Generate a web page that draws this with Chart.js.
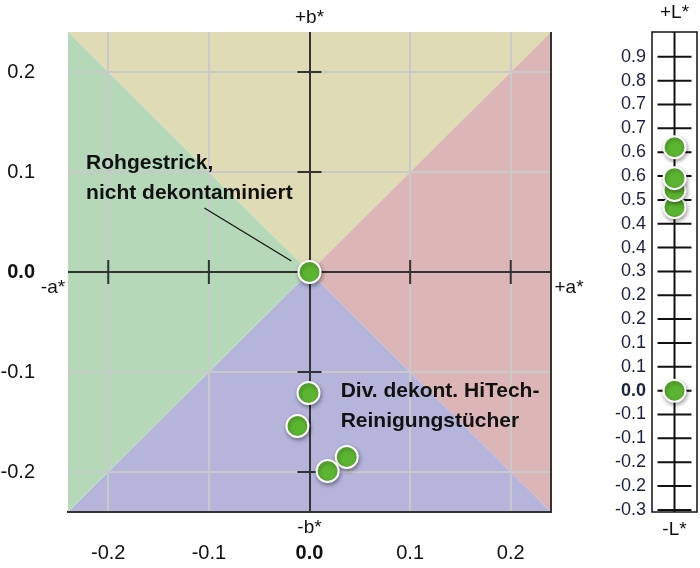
<!DOCTYPE html>
<html>
<head>
<meta charset="utf-8">
<script src="https://cdn.jsdelivr.net/npm/chart.js@4.4.1/dist/chart.umd.min.js"></script>
<style>
  html, body { margin: 0; padding: 0; background: #fff; }
  #wrap { position: relative; width: 700px; height: 568px; }
  #abChart { position: absolute; left: 0; top: 0; }
  #lChart { position: absolute; left: 600px; top: 0; }
</style>
</head>
<body>
<div id="wrap">
  <canvas id="abChart" width="600" height="568"></canvas>
  <canvas id="lChart" width="100" height="568"></canvas>
</div>
<script>
// Farbabstand-Daten (a*, b*, L*)
const sampleNames = ['Rohgestrick', 'Tuch 1', 'Tuch 2', 'Tuch 3', 'Tuch 4'];
const aValues = [0, -0.001, -0.012, 0.037, 0.018];
const bValues = [0, -0.121, -0.154, -0.185, -0.199];
const lValues = [0, 0.481, 0.526, 0.557, 0.638];

const abTicks = [-0.2, -0.1, 0, 0.1, 0.2];
const abTickLabels = ['-0.2', '-0.1', '0.0', '0.1', '0.2'];
const lTicks = [-0.3125, -0.25, -0.1875, -0.125, -0.0625, 0, 0.0625, 0.125, 0.1875, 0.25,
  0.3125, 0.375, 0.4375, 0.5, 0.5625, 0.625, 0.6875, 0.75, 0.8125, 0.875];
const lTickLabels = ['-0.3', '-0.2', '-0.2', '-0.1', '-0.1', '0.0', '0.1', '0.1', '0.2', '0.2',
  '0.3', '0.4', '0.4', '0.5', '0.6', '0.6', '0.7', '0.7', '0.8', '0.9'];

const FONT = "'Liberation Sans', Arial, sans-serif";
const DARK = '#333';
const POINT_GREEN = '#5cb531';

// shadow under the points
const shadowOn = (ctx) => {
  ctx.save();
  ctx.shadowColor = 'rgba(0, 0, 0, 0.35)';
  ctx.shadowBlur = 4;
  ctx.shadowOffsetX = 1;
  ctx.shadowOffsetY = 2;
};

// keep the plot area where it is, no label padding
const noPad = (scale) => {
  scale.paddingTop = 0;
  scale.paddingBottom = 0;
  scale.paddingLeft = 0;
  scale.paddingRight = 0;
};

// a*/b* diagram decorations
const abPlugin = {
  id: 'abDeco',
  beforeDraw(chart) {
    const { ctx, chartArea: ca, scales: { x, y } } = chart;
    const cx = x.getPixelForValue(0), cy = y.getPixelForValue(0);
    const tri = (pts, color) => {
      ctx.beginPath();
      ctx.moveTo(pts[0][0], pts[0][1]);
      pts.slice(1).forEach(p => ctx.lineTo(p[0], p[1]));
      ctx.closePath();
      ctx.fillStyle = color;
      ctx.fill();
    };
    ctx.save();
    tri([[ca.left, ca.top], [ca.right, ca.top], [cx, cy]], '#dedbb5');
    tri([[ca.right, ca.top], [ca.right, ca.bottom], [cx, cy]], '#dcb5b7');
    tri([[ca.right, ca.bottom], [ca.left, ca.bottom], [cx, cy]], '#b5b5dc');
    tri([[ca.left, ca.bottom], [ca.left, ca.top], [cx, cy]], '#b5d9b8');
    ctx.restore();
  },
  beforeDatasetsDraw(chart) {
    const { ctx, chartArea: ca, scales: { x, y } } = chart;
    const cx = x.getPixelForValue(0), cy = y.getPixelForValue(0);
    ctx.save();
    ctx.strokeStyle = DARK;
    ctx.lineWidth = 2;
    ctx.beginPath();
    abTicks.filter(v => v !== 0).forEach(v => {
      const px = x.getPixelForValue(v), py = y.getPixelForValue(v);
      ctx.moveTo(px, cy - 12); ctx.lineTo(px, cy + 12);
      ctx.moveTo(cx - 12, py); ctx.lineTo(cx + 12, py);
    });
    // right border
    ctx.moveTo(ca.right, ca.top); ctx.lineTo(ca.right, ca.bottom + 1);
    ctx.stroke();

    // axis names
    ctx.fillStyle = '#111';
    ctx.font = '19px ' + FONT;
    ctx.textAlign = 'center';
    ctx.textBaseline = 'middle';
    ctx.fillText('+b*', cx, ca.top - 14);
    ctx.fillText('-b*', cx, ca.bottom + 16);
    ctx.fillText('-a*', ca.left - 15, cy + 16);
    ctx.fillText('+a*', ca.right + 18, cy + 16);

    // annotations
    ctx.fillStyle = '#111';
    ctx.font = 'bold 21px ' + FONT;
    ctx.textAlign = 'left';
    ctx.fillText('Rohgestrick,', x.getPixelForValue(-0.222), y.getPixelForValue(0.109));
    ctx.fillText('nicht dekontaminiert', x.getPixelForValue(-0.222), y.getPixelForValue(0.079));
    ctx.fillText('Div. dekont. HiTech-', x.getPixelForValue(0.031), y.getPixelForValue(-0.119));
    ctx.fillText('Reinigungstücher', x.getPixelForValue(0.031), y.getPixelForValue(-0.149));

    // leader line
    ctx.strokeStyle = '#111';
    ctx.lineWidth = 1.2;
    ctx.beginPath();
    ctx.moveTo(x.getPixelForValue(-0.1045), y.getPixelForValue(0.064));
    ctx.lineTo(x.getPixelForValue(-0.018), y.getPixelForValue(0.011));
    ctx.stroke();
    ctx.restore();

    shadowOn(ctx);
  },
  afterDatasetsDraw(chart) {
    chart.ctx.restore();
  }
};

// L* bar decorations
const lPlugin = {
  id: 'lDeco',
  beforeDatasetsDraw(chart) {
    const { ctx, chartArea: ca, scales: { x, y } } = chart;
    const cx = x.getPixelForValue(0);
    ctx.save();
    ctx.strokeStyle = '#111';
    ctx.lineWidth = 1.5;
    ctx.strokeRect(ca.left, ca.top, ca.right - ca.left, ca.bottom - ca.top);
    ctx.lineWidth = 2;
    ctx.beginPath();
    ctx.moveTo(cx, ca.top); ctx.lineTo(cx, ca.bottom);
    lTicks.forEach(v => {
      const py = y.getPixelForValue(v);
      ctx.moveTo(cx - 17, py); ctx.lineTo(cx + 17, py);
    });
    ctx.stroke();
    ctx.fillStyle = '#111';
    ctx.font = '19px ' + FONT;
    ctx.textAlign = 'center';
    ctx.textBaseline = 'middle';
    ctx.fillText('+L*', cx, ca.top - 19);
    ctx.fillText('-L*', cx, ca.bottom + 18);
    ctx.restore();
    shadowOn(ctx);
  },
  afterDatasetsDraw(chart) {
    chart.ctx.restore();
  }
};

const pointStyle = {
  backgroundColor: POINT_GREEN,
  borderColor: '#ffffff',
  borderWidth: 2,
  pointRadius: 11,
  pointHoverRadius: 11
};

new Chart(document.getElementById('abChart'), {
  type: 'scatter',
  data: {
    datasets: [{
      label: 'a*/b*',
      data: aValues.map((a, i) => ({ x: a, y: bValues[i] })),
      ...pointStyle
    }]
  },
  options: {
    responsive: false,
    animation: false,
    layout: { autoPadding: false, padding: { left: 0, top: 32, right: 49, bottom: 0 } },
    plugins: { legend: { display: false }, tooltip: { enabled: false } },
    scales: {
      x: {
        min: -0.24,
        max: 0.24,
        afterBuildTicks: (scale) => { scale.ticks = abTicks.map(v => ({ value: v })); },
        afterFit: (scale) => { scale.height = 56; noPad(scale); },
        grid: {
          drawTicks: false,
          lineWidth: 2,
          color: (c) => (c.tick && c.tick.value === 0 ? DARK : '#c9c9c9')
        },
        border: { display: true, color: DARK, width: 2 },
        ticks: {
          padding: 29,
          color: '#111',
          font: (c) => ({ family: FONT, size: 20, weight: c.tick && c.tick.value === 0 ? 'bold' : 'normal' }),
          callback: (v, i) => abTickLabels[i]
        }
      },
      y: {
        min: -0.24,
        max: 0.24,
        afterBuildTicks: (scale) => { scale.ticks = abTicks.map(v => ({ value: v })); },
        afterFit: (scale) => { scale.width = 68; noPad(scale); },
        grid: {
          drawTicks: false,
          lineWidth: 2,
          color: (c) => (c.tick && c.tick.value === 0 ? DARK : '#c9c9c9')
        },
        border: { display: false },
        ticks: {
          padding: 33,
          color: '#111',
          font: (c) => ({ family: FONT, size: 20, weight: c.tick && c.tick.value === 0 ? 'bold' : 'normal' }),
          callback: (v, i) => abTickLabels[i]
        }
      }
    }
  },
  plugins: [abPlugin]
});

new Chart(document.getElementById('lChart'), {
  type: 'scatter',
  data: {
    datasets: [{
      label: 'L*',
      data: lValues.map(v => ({ x: 0, y: v })),
      ...pointStyle
    }]
  },
  options: {
    responsive: false,
    animation: false,
    layout: { autoPadding: false, padding: { left: 0, top: 32, right: 3, bottom: 56 } },
    plugins: { legend: { display: false }, tooltip: { enabled: false } },
    scales: {
      x: { display: false, min: -1, max: 1 },
      y: {
        min: -0.318,
        max: 0.94,
        afterBuildTicks: (scale) => { scale.ticks = lTicks.map(v => ({ value: v })); },
        afterFit: (scale) => { scale.width = 52; noPad(scale); },
        grid: { display: false, drawTicks: false },
        border: { display: false },
        ticks: {
          padding: 6,
          color: '#1a2040',
          font: (c) => ({ family: FONT, size: 18, weight: c.tick && c.tick.value === 0 ? 'bold' : 'normal' }),
          callback: (v, i) => lTickLabels[i]
        }
      }
    }
  },
  plugins: [lPlugin]
});
</script>
</body>
</html>
